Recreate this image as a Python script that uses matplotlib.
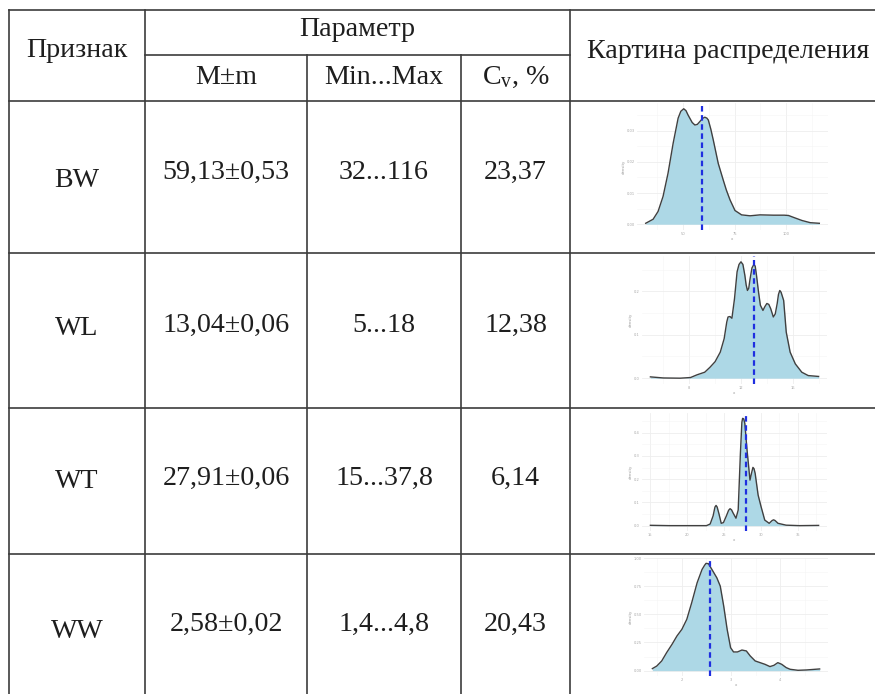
import matplotlib
matplotlib.use('Agg')
import matplotlib.pyplot as plt
from matplotlib.ticker import FixedLocator

plt.rcParams['mathtext.fontset'] = 'custom'
plt.rcParams['mathtext.rm'] = 'Liberation Serif'
plt.rcParams['mathtext.it'] = 'Liberation Serif:italic'

# ---------------- table data ----------------
header_trait = 'Признак'
header_param = 'Параметр'
header_cols = ['M±m', 'Min...Max', r'C$_{\mathrm{v}}$, %']
header_dist = 'Картина распределения'

traits = ['BW', 'WL', 'WT', 'WW']
mean_se = ['59,13±0,53', '13,04±0,06', '27,91±0,06', '2,58±0,02']
min_max = ['32...116', '5...18', '15...37,8', '1,4...4,8']
cv = ['23,37', '12,38', '6,14', '20,43']
means = [59.13, 13.04, 27.91, 2.58]

# ---------------- density curves ----------------
bw_x = [32, 35.6, 38.0, 40.4, 42.8, 45.3, 47.7, 49.0, 50.4, 51.5, 52.5, 54.5, 55.8, 57.0,
        58.2, 59.5, 60.6, 61.6, 62.3, 63.5, 64.7, 67.1, 69.5, 71.0, 72.8, 75.2, 78.4, 82.5,
        87.3, 93.8, 99.0, 101.1, 103.5, 107.6, 111.6, 116]
bw_y = [0.0003, 0.0016, 0.0041, 0.0089, 0.0163, 0.026, 0.034, 0.0362, 0.037, 0.0364, 0.035,
        0.0326, 0.0318, 0.0320, 0.0329, 0.0339, 0.0343, 0.0340, 0.0334, 0.0305, 0.027, 0.0195,
        0.0142, 0.0110, 0.0078, 0.0044, 0.003, 0.0027, 0.003, 0.0029, 0.0029, 0.0028, 0.0022,
        0.0012, 0.0005, 0.0003]

wl_x = [5.0, 6.0, 7.3, 8.1, 8.6, 9.2, 9.6, 10.0, 10.4, 10.7, 10.9, 11.0, 11.15, 11.3, 11.5,
        11.7, 11.85, 12.0, 12.15, 12.3, 12.4, 12.5, 12.6, 12.7, 12.85, 13.0, 13.1, 13.2, 13.35,
        13.5, 13.7, 13.85, 14.0, 14.15, 14.3, 14.5, 14.65, 14.8, 14.9, 15.0, 15.1, 15.3, 15.5,
        15.8, 16.2, 16.7, 17.2, 18.0]
wl_y = [0.003, 0.0005, 0.0, 0.0015, 0.0077, 0.0138, 0.025, 0.038, 0.06, 0.091, 0.129, 0.141,
        0.142, 0.138, 0.183, 0.245, 0.262, 0.268, 0.262, 0.237, 0.215, 0.202, 0.207, 0.228,
        0.254, 0.262, 0.258, 0.237, 0.200, 0.168, 0.156, 0.165, 0.172, 0.170, 0.160, 0.141,
        0.148, 0.172, 0.193, 0.202, 0.198, 0.179, 0.106, 0.06, 0.033, 0.0138, 0.006, 0.004]

wt_x = [15.0, 17.6, 19.9, 22.6, 23.1, 23.5, 23.75, 23.9, 24.05, 24.3, 24.6, 24.9, 25.3,
        25.6, 25.8, 26.0, 26.2, 26.6, 26.9, 27.2, 27.4, 27.5, 27.65, 27.8, 28.1, 28.5, 28.7,
        28.9, 29.05, 29.2, 29.6, 30.0, 30.5, 31.1, 31.5, 31.7, 31.9, 32.3, 33.4, 35.2, 37.8]
wt_y = [0.0014, 0.0, 0.0, 0.0, 0.007, 0.042, 0.080, 0.087, 0.080, 0.050, 0.010, 0.013, 0.042,
        0.066, 0.073, 0.068, 0.055, 0.032, 0.067, 0.311, 0.445, 0.462, 0.460, 0.440, 0.326,
        0.196, 0.225, 0.251, 0.245, 0.225, 0.132, 0.082, 0.024, 0.010, 0.022, 0.025, 0.022,
        0.010, 0.002, 0.0, 0.001]

ww_x = [1.4, 1.49, 1.59, 1.69, 1.80, 1.90, 2.0, 2.10, 2.20, 2.31, 2.41, 2.46, 2.49, 2.54,
        2.61, 2.71, 2.78, 2.85, 2.92, 2.99, 3.05, 3.13, 3.22, 3.31, 3.39, 3.49, 3.59, 3.69,
        3.79, 3.87, 3.95, 4.03, 4.12, 4.20, 4.36, 4.53, 4.8]
ww_y = [0.018, 0.041, 0.086, 0.160, 0.234, 0.308, 0.367, 0.456, 0.604, 0.781, 0.899, 0.935,
        0.953, 0.950, 0.899, 0.825, 0.751, 0.574, 0.367, 0.204, 0.166, 0.166, 0.183, 0.175,
        0.130, 0.086, 0.071, 0.056, 0.036, 0.047, 0.071, 0.056, 0.027, 0.012, 0.003, 0.006,
        0.015]

curves_x = [bw_x, wl_x, wt_x, ww_x]
curves_y = [bw_y, wl_y, wt_y, ww_y]
xticks = [[50, 75, 100], [8, 12, 16], [15, 20, 25, 30, 35], [2, 3, 4]]
yticks = [[0.0, 0.01, 0.02, 0.03], [0.0, 0.1, 0.2], [0.0, 0.1, 0.2, 0.3, 0.4],
          [0.0, 0.25, 0.5, 0.75, 1.0]]
ytick_fmt = ['{:.2f}', '{:.1f}', '{:.1f}', '{:.2f}']

# ---------------- layout ----------------
W, H = 875, 694
fig = plt.figure(figsize=(W / 100, H / 100), dpi=100)
ax = fig.add_axes([0, 0, 1, 1])
ax.set_xlim(0, W)
ax.set_ylim(H, 0)
ax.axis('off')

lc = '#3c3c3c'
lw = 1.2
col_x = [9, 145, 307, 461, 570]
row_y = [101, 253, 408, 554]
top_y, sub_y, bot_y = 10, 55, 694

ax.plot([col_x[0], W], [top_y, top_y], color=lc, lw=lw)
ax.plot([col_x[1], col_x[4]], [sub_y, sub_y], color=lc, lw=lw)
for y in row_y:
    ax.plot([col_x[0], W], [y, y], color=lc, lw=lw)
for i, x in enumerate(col_x):
    y0 = sub_y if i in (2, 3) else top_y
    ax.plot([x, x], [y0, bot_y], color=lc, lw=lw)

tkw = dict(ha='center', va='baseline', fontsize=20.2, family='Liberation Serif', color='#1e1e1e')
col_c = [(col_x[i] + col_x[i + 1]) / 2 for i in range(4)]
ax.text(col_c[0], 57, header_trait, **tkw)
ax.text((col_x[1] + col_x[4]) / 2, 36, header_param, **tkw)
for c, s in zip(col_c[1:], header_cols):
    ax.text(c, 84, s, **tkw)
ax.text(728, 58, header_dist, **tkw)

trait_base = [187, 335, 488, 638]
val_base = [179, 332, 485, 631]
for i in range(4):
    ax.text(col_c[0], trait_base[i], traits[i], **tkw)
    ax.text(col_c[1], val_base[i], mean_se[i], **tkw)
    ax.text(col_c[2], val_base[i], min_max[i], **tkw)
    ax.text(col_c[3], val_base[i], cv[i], **tkw)

# density panels (pixel boxes: x0, x1, y0, y1)
boxes = [(637, 828, 103, 230), (642, 827, 256, 384), (642, 827, 413, 531), (644, 828, 558, 676)]
for i in range(4):
    x0, x1, y0, y1 = boxes[i]
    dax = fig.add_axes([x0 / W, 1 - y1 / H, (x1 - x0) / W, (y1 - y0) / H])
    xs, ys = curves_x[i], curves_y[i]
    xmin, xmax = min(xs), max(xs)
    ymax = max(ys)
    dx = 0.05 * (xmax - xmin)
    dax.set_xlim(xmin - dx, xmax + dx)
    dax.set_ylim(-0.05 * ymax, ymax * 1.05)
    dax.fill_between(xs, 0, ys, color='#add8e6', lw=0, zorder=2)
    dax.plot(xs, ys, color='#404040', lw=1.0, zorder=3, solid_joinstyle='round')
    dax.axvline(means[i], color='#1f2fe0', lw=1.6, dashes=(2.5, 1.6), zorder=4)
    xt = xticks[i]
    step = xt[1] - xt[0]
    minor_x = [xt[0] - step / 2] + [t + step / 2 for t in xt]
    yt = yticks[i]
    ystep = yt[1] - yt[0]
    minor_y = [t + ystep / 2 for t in yt]
    dax.set_xticks(xt)
    dax.set_xticklabels([str(t) for t in xt])
    dax.set_yticks(yt)
    dax.set_yticklabels([ytick_fmt[i].format(t) for t in yt])
    dax.xaxis.set_minor_locator(FixedLocator(minor_x))
    dax.yaxis.set_minor_locator(FixedLocator(minor_y))
    dax.grid(True, which='major', color='#eeeeee', lw=0.6, zorder=0)
    dax.grid(True, which='minor', color='#f5f5f5', lw=0.4, zorder=0)
    dax.tick_params(which='both', length=0, labelsize=2.6, colors='#a8a8a8', pad=1.5)
    dax.set_xlabel('x', fontsize=2.8, color='#999999', labelpad=0.8)
    dax.set_ylabel('density', fontsize=2.8, color='#999999', labelpad=0.8)
    for s in dax.spines.values():
        s.set_visible(False)
    dax.set_facecolor('white')

fig.savefig('out.png', dpi=100)
